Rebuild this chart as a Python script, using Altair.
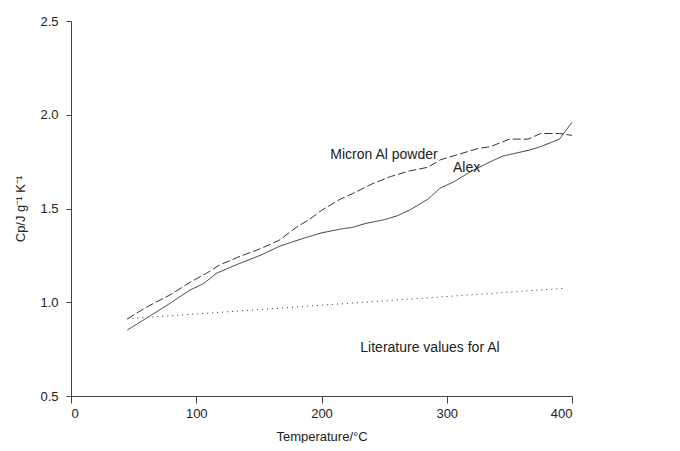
import altair as alt
import pandas as pd

# Alex (solid)
alex_t = [45, 60, 79, 95, 106, 116, 132, 151, 167, 185, 200, 215, 225,
          235, 250, 260, 270, 285, 295, 305, 320, 335, 345, 365, 375, 390, 400]
alex_cp = [0.852, 0.914, 0.994, 1.065, 1.10, 1.154, 1.20, 1.25, 1.30, 1.34,
           1.37, 1.39, 1.40, 1.42, 1.44, 1.46, 1.49, 1.55, 1.61, 1.64, 1.70, 1.75, 1.78,
           1.81, 1.83, 1.87, 1.96]

# Micron Al powder (dashed)
micron_t = [45, 60, 79, 96, 108, 119, 135, 151, 166, 180, 190, 200, 215, 225, 240,
            255, 270, 285, 295, 310, 325, 335, 350, 365, 375, 390, 400]
micron_cp = [0.911, 0.973, 1.039, 1.11, 1.154, 1.20, 1.245, 1.285, 1.33, 1.40, 1.44, 1.49,
             1.55, 1.58, 1.63, 1.67, 1.70, 1.72, 1.76, 1.79, 1.82, 1.83, 1.87, 1.87, 1.90,
             1.90, 1.89]

# Literature values for Al (dotted)
lit_t = [45, 395]
lit_cp = [0.912, 1.075]

series_names = ["Alex", "Micron Al powder", "Literature values for Al"]

label_text = ["Micron Al powder", "Alex", "Literature values for Al"]
label_t = [207, 305, 231]
label_cp = [1.785, 1.716, 0.756]

rows = []
for t, c in zip(alex_t, alex_cp):
    rows.append({"series": series_names[0], "T": t, "Cp": c})
for t, c in zip(micron_t, micron_cp):
    rows.append({"series": series_names[1], "T": t, "Cp": c})
for t, c in zip(lit_t, lit_cp):
    rows.append({"series": series_names[2], "T": t, "Cp": c})
df = pd.DataFrame(rows)

labels = pd.DataFrame({"text": label_text, "T": label_t, "Cp": label_cp})

FONT = "Liberation Sans"

x = alt.X(
    "T:Q",
    scale=alt.Scale(domain=[0, 400], nice=False),
    axis=alt.Axis(
        values=[0, 100, 200, 300, 400],
        title="Temperature/°C",
        grid=False,
        tickSize=7,
        labelPadding=4,
        titlePadding=10,
    ),
)
y = alt.Y(
    "Cp:Q",
    scale=alt.Scale(domain=[0.5, 2.5], nice=False),
    axis=alt.Axis(
        values=[0.5, 1.0, 1.5, 2.0, 2.5],
        format=".1f",
        title="Cp/J g⁻¹ K⁻¹",
        grid=False,
        tickSize=5,
        labelPadding=8,
        titlePadding=12,
    ),
)

lines = alt.Chart(df).mark_line(strokeWidth=1, color="#333333").encode(
    x=x,
    y=y,
    detail="series:N",
    strokeDash=alt.StrokeDash(
        "series:N",
        scale=alt.Scale(domain=series_names, range=[[1, 0], [8, 3], [1, 4]]),
        legend=None,
    ),
)

texts = alt.Chart(labels).mark_text(
    align="left", baseline="middle", font=FONT, fontSize=14, color="#222222"
).encode(x="T:Q", y="Cp:Q", text="text:N")

chart = (
    alt.layer(lines, texts)
    .properties(
        width=501,
        height=375,
        autosize=alt.AutoSizeParams(type="none"),
        padding={"left": 63, "top": 13, "right": 100, "bottom": 47},
    )
    .configure_view(stroke=None)
    .configure_axis(
        labelFont=FONT,
        titleFont=FONT,
        labelFontSize=13,
        titleFontSize=13,
        titleFontWeight="normal",
        labelColor="#222222",
        titleColor="#222222",
        domainColor="#444444",
        tickColor="#444444",
    )
)

chart.save("out.html", embed_options={"renderer": "svg", "actions": False})
